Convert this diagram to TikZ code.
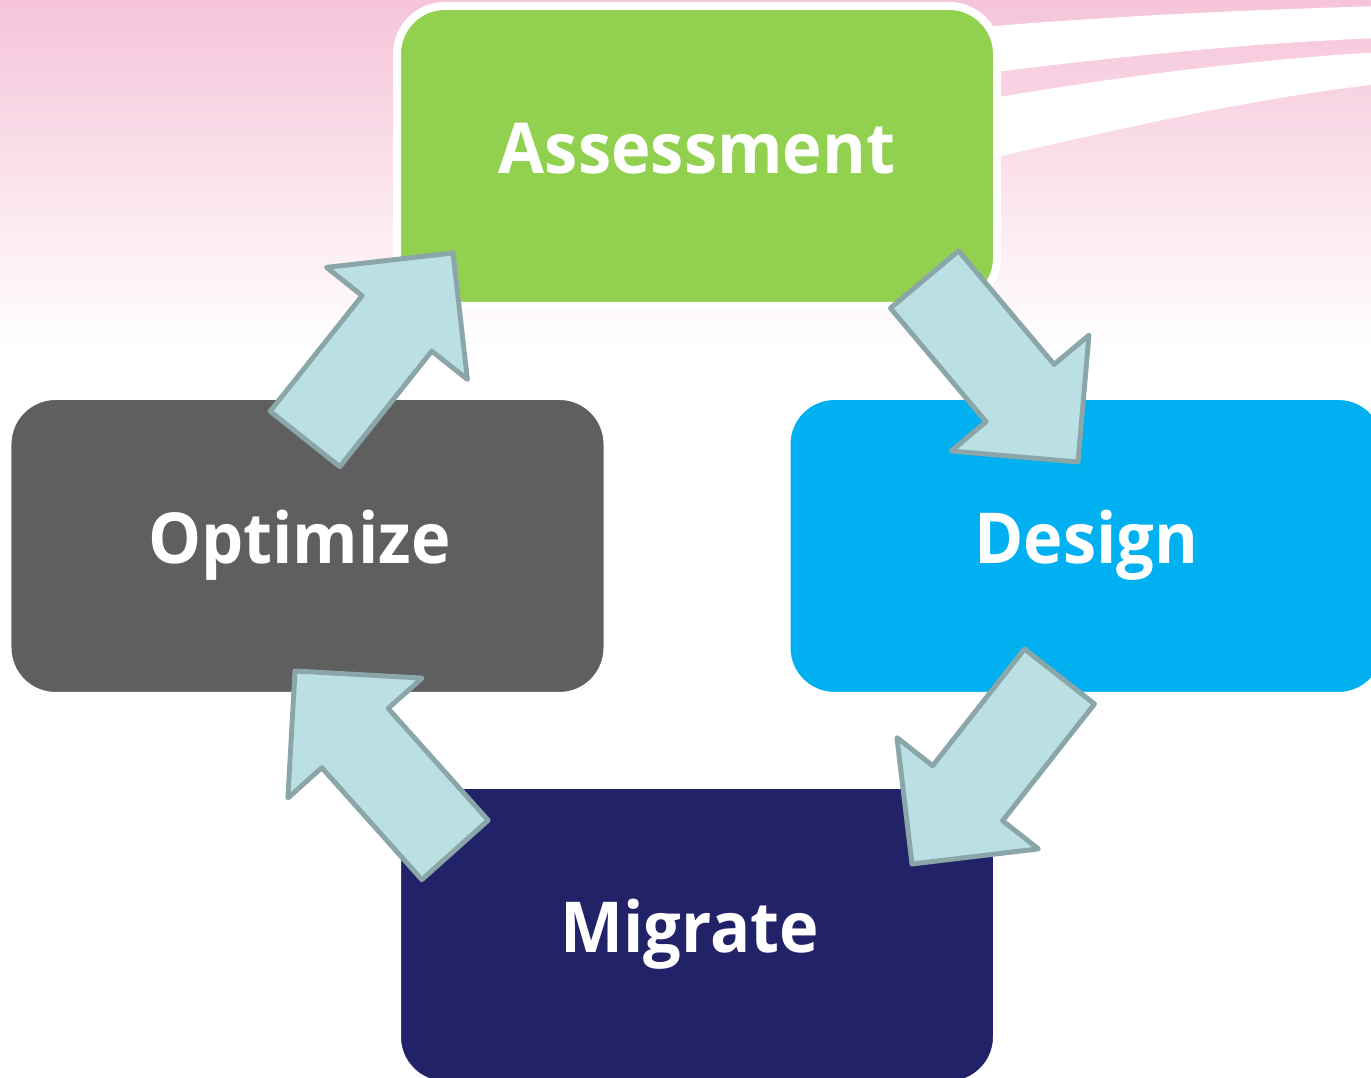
\documentclass[tikz,border=0pt]{standalone}
\usepackage{fontspec}
\newfontfamily\cycfont{Open Sans}[FakeStretch=0.95]
\usetikzlibrary{calc}
\definecolor{cycvert}{HTML}{92D050}
\definecolor{cycbleu}{HTML}{00B0F0}
\definecolor{cycgris}{HTML}{5F5F5F}
\definecolor{cycmarine}{HTML}{222268}
\definecolor{flecheclair}{HTML}{BAE0E3}
\definecolor{flechebord}{HTML}{8AA6A9}
\definecolor{fondrose}{HTML}{F6C4D9}
\tikzset{
  cycnode/.style = {rectangle, rounded corners=0.48cm, draw=white,
    line width=0.08cm, minimum width=6cm, minimum height=3cm,
    inner sep=0pt, text=white, text height=0.5cm, text depth=0.14cm,
    font=\cycfont\bfseries\fontsize{20}{24}\selectfont},
  cyc_v/.style = {cycnode, fill=cycvert},% etape verte
  cyc_b/.style = {cycnode, fill=cycbleu},% etape bleue
  cyc_g/.style = {cycnode, fill=cycgris},% etape grise
  cyc_m/.style = {cycnode, fill=cycmarine},% etape marine
  fleche/.style = {fill=flecheclair, draw=flechebord, line width=1.4pt}
}
% grosse fleche de #1 (queue) vers #2 (pointe)
\newcommand{\grossefleche}[2]{%
  \coordinate (#1#2) at ($(#2)!0.9cm!(#1)$);
  \draw[fleche] ($(#1)!0.445cm!90:(#2)$) -- ($(#1#2)!0.445cm!90:(#2)$)
    -- ($(#1#2)!0.9cm!90:(#2)$) -- (#2) -- ($(#1#2)!0.9cm!-90:(#2)$)
    -- ($(#1#2)!0.445cm!-90:(#2)$) -- ($(#1)!0.445cm!-90:(#2)$) -- cycle;
}

\begin{document}
\begin{tikzpicture}[line join=round]
\useasboundingbox (0,0) rectangle (13.71,10.78);
\clip (0,0) rectangle (13.71,10.78);
% fond
\fill[white] (0,0) rectangle (13.71,10.78);
\shade[top color=fondrose, bottom color=white] (0,7.3) rectangle (13.71,10.78);
\fill[white] (9.5,10.48) .. controls (11,10.62) and (12.5,10.68) .. (13.8,10.72)
  -- (13.8,10.40) .. controls (12.5,10.35) and (11,10.2) .. (9.5,10.0) -- cycle;
\fill[white] (9.5,9.72) .. controls (11,10.0) and (12.5,10.18) .. (13.8,10.26)
  -- (13.8,9.94) .. controls (12.5,9.8) and (11,9.45) .. (9.5,9.1) -- cycle;

\node [cyc_v] (assess) at (6.97,9.22) {Assessment};
\node [cyc_b] (design) at (10.865,5.32) {Design};
\node [cyc_g] (optim) at (3.075,5.32) {\hspace*{-0.16cm}Optimize};
\node [cyc_m] (migr) at (6.97,1.43) {\hspace*{-0.14cm}Migrate};

\coordinate (q1) at (3.05,6.39);   \coordinate (p1) at (4.53,8.25);
\coordinate (q2) at (9.245,7.985); \coordinate (p2) at (10.78,6.16);
\coordinate (q3) at (10.595,4.015);\coordinate (p3) at (9.12,2.14);
\coordinate (q4) at (4.55,2.28);   \coordinate (p4) at (2.95,4.07);
\grossefleche{q1}{p1}
\grossefleche{q2}{p2}
\grossefleche{q3}{p3}
\grossefleche{q4}{p4}
\end{tikzpicture}
\end{document}
